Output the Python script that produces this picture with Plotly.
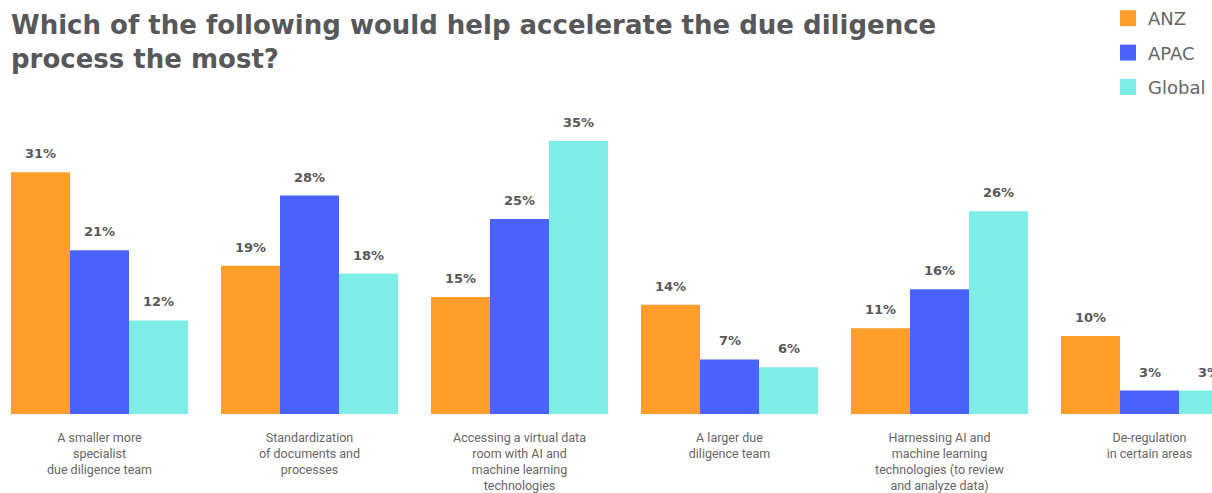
import plotly.graph_objects as go

categories = [
    "A smaller more<br>specialist<br>due diligence team",
    "Standardization<br>of documents and<br>processes",
    "Accessing a virtual data<br>room with AI and<br>machine learning<br>technologies",
    "A larger due<br>diligence team",
    "Harnessing AI and<br>machine learning<br>technologies (to review<br>and analyze data)",
    "De-regulation<br>in certain areas",
]
series_names = ["ANZ", "APAC", "Global"]
anz = [31, 19, 15, 14, 11, 10]
apac = [21, 28, 25, 7, 16, 3]
global_ = [12, 18, 35, 6, 26, 3]
colors = ["#FF9E2A", "#4A63FF", "#7FEDE7"]

values = [anz, apac, global_]
xs = list(range(len(categories)))

W, H = 1212, 493
cat_px = 210.0
center0 = 99.5
x0 = -center0 / cat_px
x1 = x0 + W / cat_px
plot_top, plot_bottom = 100, 414
px_per_pct = 7.8
ymax = (plot_bottom - plot_top) / px_per_pct

fig = go.Figure()
for name, vals, col in zip(series_names, values, colors):
    fig.add_trace(go.Bar(x=xs, y=vals, name=name, marker_color=col,
                         marker_line_width=0, showlegend=False,
                         hoverinfo="skip"))
for name, col in zip(series_names, colors):
    fig.add_trace(go.Scatter(x=[None], y=[None], mode="markers", name=name,
                             legendgroup=name,
                             marker=dict(symbol="square", size=16, color=col)))

bar_px = 59
for i, (vals, col) in enumerate(zip(values, colors)):
    for j, v in enumerate(vals):
        fig.add_annotation(x=j, y=v, text=f"{v}%", showarrow=False,
                           xshift=(i - 1) * bar_px, yshift=9, yanchor="bottom",
                           font=dict(family="DejaVu Sans", size=13, color="#58585a",
                                     weight="bold"))

fig.update_layout(
    width=W, height=H,
    margin=dict(l=0, r=0, t=plot_top, b=H - plot_bottom, autoexpand=False),
    plot_bgcolor="white", paper_bgcolor="white",
    barmode="group", bargap=33 / 210, bargroupgap=0,
    font=dict(family="Roboto", color="#666666"),
    title=dict(text="Which of the following would help accelerate the due diligence<br>process the most?",
               x=11 / W, xref="container", xanchor="left",
               y=1 - 34 / H, yref="container", yanchor="top",
               font=dict(family="DejaVu Sans", size=26, color="#58585a", weight="bold")),
    legend=dict(x=1108 / W, xanchor="left", y=1, yanchor="top", yref="container",
                font=dict(family="DejaVu Sans", size=18, color="#666666"),
                tracegroupgap=8, bgcolor="rgba(0,0,0,0)"),
    xaxis=dict(range=[x0, x1], tickmode="array", tickvals=xs, ticktext=categories,
               showgrid=False, zeroline=False, showline=False, ticks="",
               tickfont=dict(family="Roboto", size=12.5, color="#666666"),
               ticklabelstandoff=14, fixedrange=True, automargin=False),
    yaxis=dict(range=[0, ymax], visible=False, fixedrange=True, automargin=False),
)

fig.write_html("out.html")
